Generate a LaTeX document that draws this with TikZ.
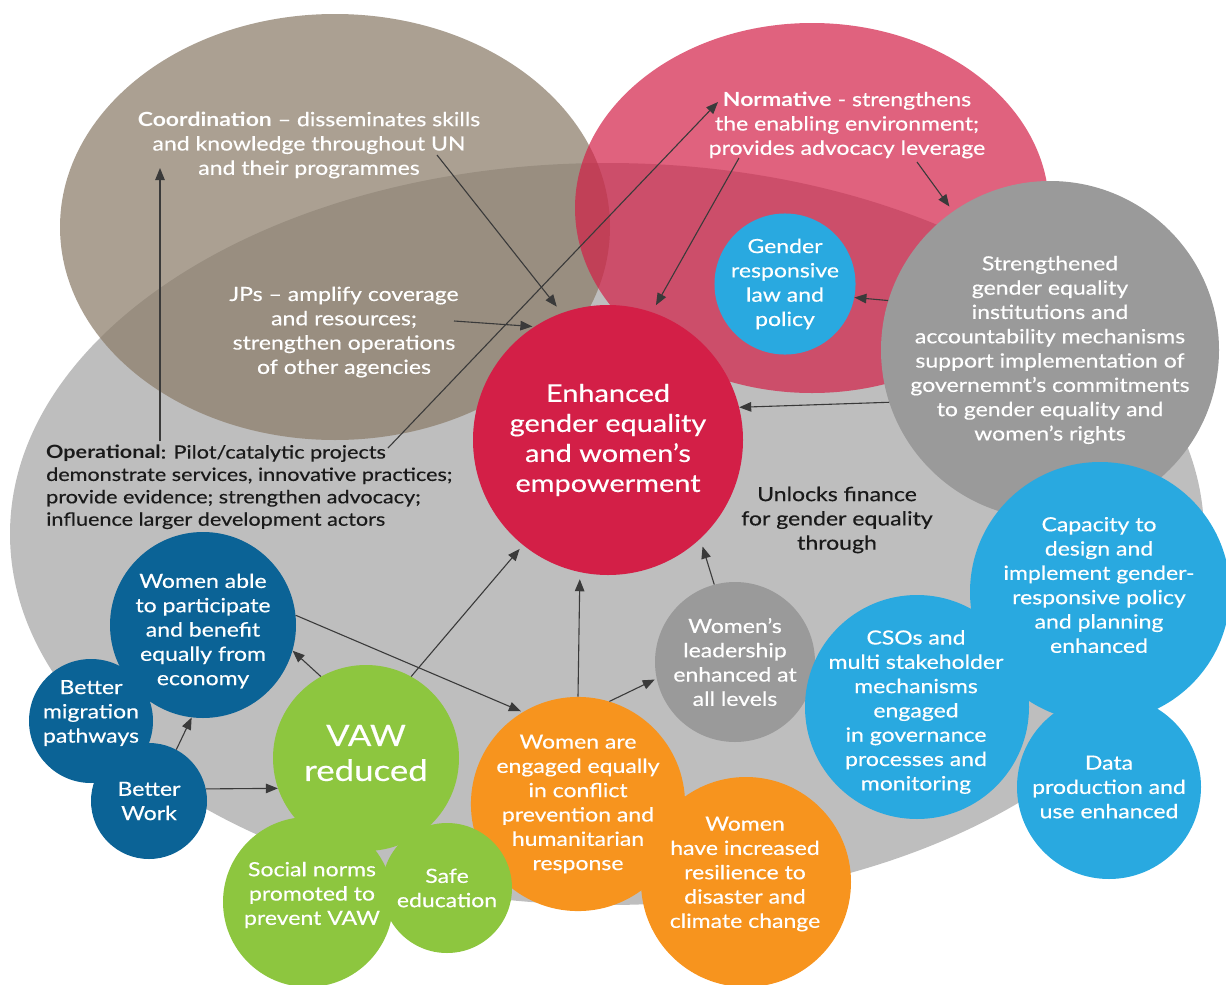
\documentclass[tikz,border=0pt]{standalone}
\usepackage{fontspec}
\setmainfont{Lato}[FakeStretch=1.18, UprightFeatures={FakeBold=0.4}]
\usetikzlibrary{arrows.meta,calc}
\definecolor{bggray}{HTML}{BEBEBE}
\definecolor{tan}{RGB}{140,125,106}
\definecolor{crim}{HTML}{D31F47}
\definecolor{lblue}{HTML}{29A9E0}
\definecolor{dblue}{HTML}{0B6396}
\definecolor{lgreen}{HTML}{8DC63F}
\definecolor{orng}{HTML}{F7941E}
\definecolor{mgray}{HTML}{9A9A9A}
\definecolor{arrgray}{HTML}{3A3A3A}
\definecolor{ink}{HTML}{1A1A1A}
\tikzset{
  bodyfont/.style={font=\fontsize{19.5}{24.3}\selectfont},
  bub/.style={circle, inner sep=0pt, align=center, text=white, bodyfont},
  wtxt/.style={inner sep=0pt, align=center, text=white, bodyfont},
  btxt/.style={inner sep=0pt, text=ink},
  arr/.style={draw=arrgray, line width=1.1pt, -{Triangle[length=12pt,width=9.5pt]}}
}
\begin{document}
\begin{tikzpicture}[x=1pt,y=-1pt]
\useasboundingbox (0,0) rectangle (1226,985);
% background ellipses
\fill[bggray] (607,534) ellipse [x radius=597, y radius=371];
\fill[tan, fill opacity=.73] (335,227) ellipse [x radius=275, y radius=213];
\fill[crim, fill opacity=.7] (812,208) ellipse [x radius=237, y radius=185];

% circles
\node[bub, fill=crim, minimum size=270pt, font=\fontsize{24.5}{30}\selectfont] (enh) at (608,440) {Enhanced\\gender equality\\and women’s\\empowerment};
\node[bub, fill=lblue, minimum size=140pt] (law) at (785,284) {Gender\\responsive\\law and\\policy};
\node[bub, fill=mgray, minimum size=338pt] (str) at (1050,350) {Strengthened\\gender equality\\institutions and\\accountability mechanisms\\support implementation of\\governemnt’s commitments\\to gender equality and\\women’s rights};
\node[bub, fill=lblue, minimum size=260pt] (cap) at (1100,592) {};
\node[bub, fill=lblue, minimum size=184pt] (data) at (1109,787) {Data\\production and\\use enhanced};
\node[bub, fill=mgray, minimum size=160pt] (lead) at (735,662) {Women’s\\leadership\\enhanced at\\all levels};
\node[bub, fill=lblue, minimum size=224pt] (cso) at (917,707) {};
\node[bub, fill=dblue, minimum size=124pt] (mig) at (91,721) {};
\node[bub, fill=dblue, minimum size=116pt] (work) at (149,801) {Better\\Work};
\node[bub, fill=dblue, minimum size=186pt] (able) at (203,625) {};
\node[bub, fill=orng, minimum size=210pt] (conf) at (578,804) {Women are\\engaged equally\\in conflict\\prevention and\\humanitarian\\response};
\node[bub, fill=orng, minimum size=210pt] (res) at (746,882) {};
\node[bub, fill=lgreen, minimum size=186pt] (vaw) at (366,758) {};
\node[bub, fill=lgreen, minimum size=170pt] (soc) at (308,902) {};
\node[bub, fill=lgreen, minimum size=130pt] (safe) at (447,888) {Safe\\education};

% texts offset from their circles
\node[wtxt] (capT) at (1099,585) {Capacity to\\design and\\implement gender-\\responsive policy\\and planning\\enhanced};
\node[wtxt] (csoT) at (916,712) {CSOs and\\multi stakeholder\\mechanisms\\engaged\\in governance\\processes and\\monitoring};
\node[wtxt] (ableT) at (203,631) {Women able\\to participate\\and benefit\\equally from\\economy};
\node[wtxt] (migT) at (91,713) {Better\\migration\\pathways};
\node[wtxt] (resT) at (745,874) {Women\\have increased\\resilience to\\disaster and\\climate change};
\node[wtxt] (socT) at (312,895) {Social norms\\promoted to\\prevent VAW};
\node[wtxt, font=\fontsize{29.5}{35}\selectfont] (vawT) at (366,753) {VAW\\reduced};

% free texts
\node[wtxt] (coo) at (309,145) {\textbf{Coordination} – disseminates skills\\and knowledge throughout UN\\and their programmes};
\node[wtxt] (nor) at (847,125) {\textbf{Normative} - strengthens\\the enabling environment;\\provides advocacy leverage};
\node[wtxt] (jps) at (344,332) {JPs – amplify coverage\\and resources;\\strengthen operations\\of other agencies};
\node[btxt, anchor=west, align=left, font=\fontsize{18.3}{22.4}\selectfont] (op) at (46,487) {\textbf{Operational}: Pilot/catalytic projects\\demonstrate services, innovative practices;\\provide evidence; strengthen advocacy;\\influence larger development actors};
\node[btxt, align=center, bodyfont] (unl) at (837,520) {Unlocks finance\\for gender equality\\through};

% arrow end points on text blocks
\coordinate (opA) at (160,441);
\coordinate (cooA) at (160,168);
\coordinate (opB) at (388,448);
\coordinate (norA) at (718,102);
\coordinate (cooB) at (437,155);
\coordinate (jpsA) at (454,321);
\coordinate (norB) at (739,158);
\coordinate (norC) at (917,162);

% connectors
\draw[arr] (opA) -- (cooA);
\draw[arr] (opB) -- (norA);
\draw[arr, shorten >=8pt] (cooB) -- (enh.110.8);
\draw[arr, shorten >=2pt] (jpsA) -- (enh.123.7);
\draw[arr, shorten >=8pt] (norB) -- (enh.71.7);
\draw[arr, shorten >=6pt] (norC) -- (str.125.5);
\draw[arr] (str.163.4) -- (law.-11.5);
\draw[arr] (str.198.9) -- (enh.14.9);
\draw[arr, shorten >=2pt] (able.6.9) -- (conf.121.6);
\draw[arr, shorten >=5pt] (vaw.61.2) -- (enh.231.1);
\draw[arr] (vaw.119.1) -- (able.-16.9);
\draw[arr] (work.62.6) -- (able.-97.5);
\draw[arr] (work.12.6) -- (vaw.199.4);
\draw[arr, shorten >=7pt] (conf.90.5) -- (enh.-102.6);
\draw[arr, shorten >=2pt] (conf.73.3) -- (lead.192.7);
\draw[arr, shorten >=8pt] (lead.105.6) -- (enh.-47.3);
\end{tikzpicture}
\end{document}
